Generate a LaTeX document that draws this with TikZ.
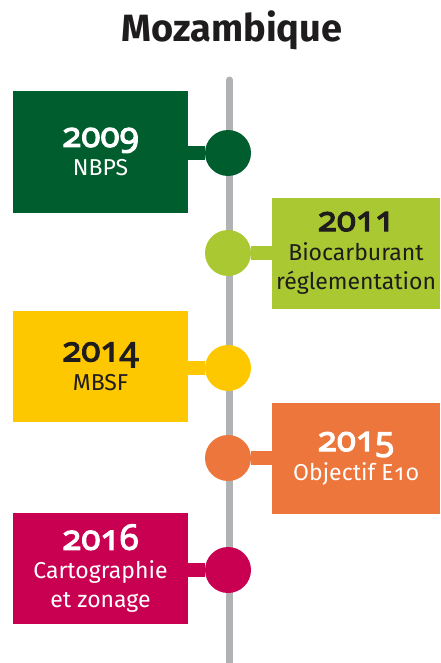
\documentclass[tikz,border=0pt]{standalone}
\usepackage{fontspec}
\setmainfont{Fira Sans}
\newfontfamily\yearfam{Noto Sans}[Numbers=OldStyle,AutoFakeBold=3]
\usetikzlibrary{positioning,calc}
\definecolor{mzGreen}{HTML}{005E2E}
\definecolor{mzLime}{HTML}{A9C832}
\definecolor{mzYellow}{HTML}{FEC800}
\definecolor{mzOrange}{HTML}{EC763C}
\definecolor{mzRed}{HTML}{C90052}
\definecolor{mzGray}{HTML}{B1B2B4}
\definecolor{mzInk}{HTML}{1E1C1D}
\newcommand{\yr}[1]{{\yearfam\bfseries\fontsize{35}{31}\selectfont #1}}

\begin{document}
\begin{tikzpicture}[x=1pt,y=-1pt,
        event/.style={rectangle,inner sep=0pt,minimum width=175pt,minimum height=111pt,align=center,
          font=\fontsize{23}{29}\selectfont},
        dot/.style={circle,inner sep=0pt,minimum size=46pt},
        stem/.style={line width=14pt}
      ]
        \useasboundingbox (0,0) rectangle (440,663);
        \node[font=\bfseries\fontsize{38}{40}\selectfont,text=mzInk] (title) at (232,30) {Mozambique};
        % timeline
        \coordinate (top) at (229.5,80);
        \coordinate (bot) at (229.5,670);
        \draw[mzGray,line width=7pt,line cap=round] (top) -- (bot);
        % events
        \node[event,fill=mzGreen,text=white,minimum height=121pt] (e2009) at (100.5,152) {\yr{2009}\\NBPS};
        \node[event,fill=mzLime,text=mzInk,minimum width=168pt] (e2011) at (356,253) {\yr{2011}\\Biocarburant\\réglementation};
        \node[event,fill=mzYellow,text=mzInk] (e2014) at (100.5,366.5) {\yr{2014}\\MBSF};
        \node[event,fill=mzOrange,text=white,minimum width=168pt] (e2015) at (356,458.5) {\yr{2015}\\Objectif E{\yearfam 10}};
        \node[event,fill=mzRed,text=white] (e2016) at (100.5,568.5) {\yr{2016}\\Cartographie\\et zonage};
        % dots on the line
        \node[dot,fill=mzGreen] (d2009) at (228,153) {};
        \node[dot,fill=mzLime] (d2011) at (228,253) {};
        \node[dot,fill=mzYellow] (d2014) at (228,368) {};
        \node[dot,fill=mzOrange] (d2015) at (228,458) {};
        \node[dot,fill=mzRed] (d2016) at (228,570) {};
        \draw[stem,mzGreen] (e2009.east |- d2009) -- (d2009);
        \draw[stem,mzLime] (e2011.west |- d2011) -- (d2011);
        \draw[stem,mzYellow] (e2014.east |- d2014) -- (d2014);
        \draw[stem,mzOrange] (e2015.west |- d2015) -- (d2015);
        \draw[stem,mzRed] (e2016.east |- d2016) -- (d2016);
      \end{tikzpicture}
\end{document}
